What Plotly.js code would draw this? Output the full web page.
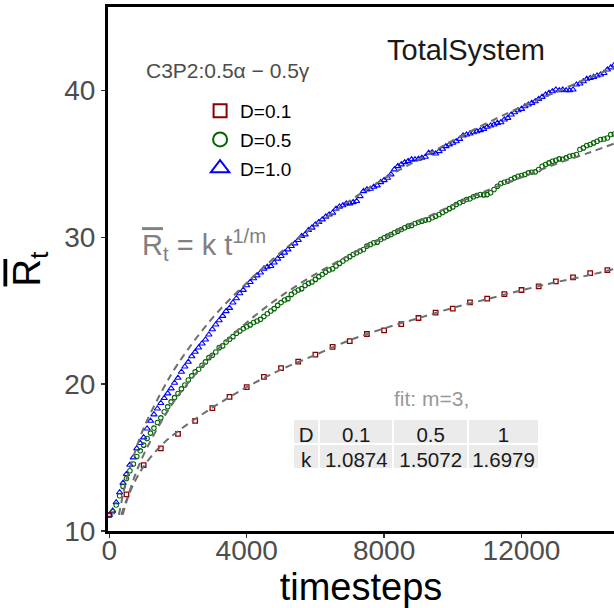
<!DOCTYPE html>
<html>
<head>
<meta charset="utf-8">
<script src="https://cdn.plot.ly/plotly-3.0.1.min.js"></script>
<style>html,body{margin:0;padding:0;background:#fff;}#chart{width:614px;height:608px;}</style>
</head>
<body>
<div id="chart"></div>
<script>
// ---- data ----
// D=1.0 and D=0.5 sampled every 100 timesteps starting at 0
const tStepDense = 100;
const blueR = [11.09,11.38,11.95,12.63,13.27,13.88,14.51,15.01,15.62,15.99,
16.37,16.98,17.50,17.94,18.34,18.71,19.05,19.37,19.71,20.09,
20.43,20.84,21.20,21.52,21.90,22.20,22.49,22.77,23.04,23.38,
23.74,24.06,24.35,24.65,24.97,25.19,25.56,25.85,26.19,26.42,
26.73,26.96,27.21,27.41,27.60,27.87,28.00,28.05,28.28,28.55,
28.73,28.96,29.18,29.41,29.59,29.82,30.09,30.20,30.50,30.66,
30.88,31.04,31.22,31.41,31.56,31.68,31.95,32.09,32.18,32.31,
32.31,32.40,32.47,32.81,33.15,33.27,33.31,33.45,33.54,33.76,
33.90,34.06,34.29,34.63,34.85,34.97,35.12,35.19,35.31,35.31,
35.35,35.42,35.49,35.76,35.80,35.71,35.87,36.03,36.21,36.33,
36.44,36.55,36.71,36.94,37.01,37.07,37.16,37.23,37.30,37.39,
37.53,37.62,37.69,37.80,37.84,38.03,38.14,38.37,38.52,38.66,
38.75,38.93,39.05,39.16,39.27,39.43,39.57,39.73,39.84,39.95,
40.07,40.02,40.07,40.02,40.02,40.07,40.41,40.48,40.63,40.80,
40.86,40.93,41.02,41.09,41.20,41.43,41.58,41.75];
const greenR = [11.09,11.31,11.77,12.40,13.04,13.58,14.10,14.56,15.08,15.46,
15.85,16.30,16.67,17.01,17.39,17.71,18.12,18.46,18.80,19.09,
19.37,19.68,19.95,20.29,20.57,20.84,21.02,21.29,21.52,21.81,
21.97,22.20,22.49,22.61,22.88,23.06,23.24,23.47,23.63,23.79,
23.92,24.04,24.20,24.31,24.42,24.61,24.80,24.99,25.15,25.37,
25.56,25.74,25.83,26.12,26.28,26.42,26.51,26.73,26.87,26.96,
27.14,27.33,27.48,27.64,27.78,27.87,28.05,28.23,28.39,28.55,
28.69,28.84,28.96,29.07,29.18,29.41,29.52,29.64,29.68,29.86,
29.98,30.09,30.20,30.32,30.43,30.54,30.66,30.77,30.82,30.95,
31.04,31.11,31.18,31.22,31.34,31.45,31.56,31.70,31.83,31.96,
32.08,32.24,32.36,32.47,32.59,32.63,32.77,32.86,32.93,32.90,
32.92,33.04,33.27,33.49,33.67,33.76,33.83,33.95,34.06,34.17,
34.22,34.29,34.40,34.44,34.47,34.63,34.85,34.97,35.08,35.19,
35.26,35.35,35.33,35.42,35.53,35.58,35.65,35.99,36.10,36.26,
36.33,36.44,36.55,36.67,36.71,36.78,37.01,37.05];
// D=0.1 sampled every 500 timesteps starting at 0
const tStepSparse = 500;
const redR = [11.10,12.50,14.49,15.63,16.62,17.50,18.37,19.14,19.80,20.50,
21.10,21.54,22.02,22.54,22.93,23.42,23.67,24.10,24.51,24.88,
25.15,25.58,25.83,26.14,26.42,26.67,27.01,27.28,27.57,27.78];

// dashed fit curves
const fitBlueT = [280,400,500,750,1000,1500,2000,3000,4000,5000,6000,7000,8000,9000,10000,11000,12000,13000,14000,14700];
const fitBlueR = [11.1,12.5,13.5,15.4,17.0,19.4,21.4,24.5,26.9,29.0,30.8,32.5,34.0,35.3,36.6,37.8,38.9,39.9,40.9,41.6];
const fitGreenT = [390,500,750,1000,1500,2000,3000,4000,5000,6000,7000,8000,9000,10000,11000,12000,13000,14000,14700];
const fitGreenR = [11.1,12.0,13.8,15.2,17.4,19.2,22.0,24.2,26.0,27.5,28.8,30.0,31.1,32.2,33.2,34.1,35.0,35.8,36.4];
const fitRedT = [350,500,750,1000,1500,2000,3000,4000,5000,6000,7000,8000,9000,10000,11000,12000,13000,14000,14700];
const fitRedR = [11.1,12.1,13.4,14.4,15.8,16.8,18.4,19.8,21.0,22.0,23.0,23.8,24.5,25.2,25.8,26.4,26.95,27.45,27.85];

const legendNames = ['D=0.1','D=0.5','D=1.0'];
const xTickVals = [0,4000,8000,12000];
const xTickText = ['0','4000','8000','12000'];
const yTickVals = [10,20,30,40];
const yTickText = ['10','20','30','40'];

// fit table
const tableHeader = ['D','0.1','0.5','1'];
const tableRow = ['k','1.0874','1.5072','1.6979'];

// ---- styling ----
const FONT = 'Liberation Sans, Arial, Helvetica, sans-serif';
const cRed = '#8B0000', cGreen = '#006400', cBlue = '#0000FF';
const fitColor = '#6e6e6e';

const traces = [
  {type:'scatter', mode:'markers', x0:0, dx:tStepDense, y:blueR, showlegend:false,
   marker:{symbol:'triangle-up-open', size:5.5, color:cBlue, line:{width:1.1, color:cBlue}}},
  {type:'scatter', mode:'markers', x0:0, dx:tStepDense, y:greenR, showlegend:false,
   marker:{symbol:'circle-open', size:4.5, color:cGreen, line:{width:1.1, color:cGreen}}},
  {type:'scatter', mode:'markers', x0:0, dx:tStepSparse, y:redR, showlegend:false,
   marker:{symbol:'square-open', size:4.5, color:cRed, line:{width:1.3, color:cRed}}},
  {type:'scatter', mode:'lines', x:fitBlueT, y:fitBlueR, showlegend:false,
   line:{color:fitColor, width:2, dash:'7px,5px', shape:'spline'}},
  {type:'scatter', mode:'lines', x:fitGreenT, y:fitGreenR, showlegend:false,
   line:{color:fitColor, width:2, dash:'7px,5px', shape:'spline'}},
  {type:'scatter', mode:'lines', x:fitRedT, y:fitRedR, showlegend:false,
   line:{color:fitColor, width:2, dash:'7px,5px', shape:'spline'}},
  // legend entries
  {type:'scatter', mode:'markers', x:[null], y:[null], name:legendNames[0], legendgroup:'a',
   marker:{symbol:'square-open', size:13, color:cRed, line:{width:2, color:cRed}}},
  {type:'scatter', mode:'markers', x:[null], y:[null], name:legendNames[1], legendgroup:'b',
   marker:{symbol:'circle-open', size:14, color:cGreen, line:{width:2, color:cGreen}}},
  {type:'scatter', mode:'markers', x:[null], y:[null], name:legendNames[2], legendgroup:'c',
   marker:{symbol:'triangle-up-open', size:16, color:cBlue, line:{width:2, color:cBlue}}},
  // fit table
  {type:'table', domain:{x:[0.3656,0.8518], y:[0.1145,0.2137]},
   columnwidth:[26,73,74,70],
   header:{values:tableHeader, align:'center', height:25,
     fill:{color:'#EBEBEB'}, line:{color:'#FFFFFF', width:2},
     font:{family:FONT, size:20.5, color:'#1a1a1a'}},
   cells:{values:tableRow.map(v=>[v]), align:'center', height:25,
     fill:{color:'#EBEBEB'}, line:{color:'#FFFFFF', width:2},
     font:{family:FONT, size:20.5, color:'#1a1a1a'}}}
];

const layout = {
  width:614, height:608,
  margin:{l:108, r:0, t:7, b:77, pad:0},
  paper_bgcolor:'#FFFFFF', plot_bgcolor:'#FFFFFF',
  font:{family:FONT},
  showlegend:true,
  legend:{x:0.182, y:0.838, xanchor:'left', yanchor:'top', bgcolor:'rgba(0,0,0,0)',
    font:{family:FONT, size:19, color:'#000'}, itemsizing:'trace', tracegroupgap:1},
  xaxis:{range:[-38,14693], tickvals:xTickVals, ticktext:xTickText,
    showline:true, linewidth:3, linecolor:'#000', mirror:true,
    ticks:'outside', ticklen:4, tickwidth:1.5, tickcolor:'#333',
    ticklabelstandoff:-12,
    showgrid:false, zeroline:false,
    tickfont:{family:FONT, size:28, color:'#4D4D4D'},
    title:{text:'timesteps', font:{family:FONT, size:38, color:'#000'}, standoff:6}},
  yaxis:{range:[10,45.7], tickvals:yTickVals, ticktext:yTickText,
    showline:true, linewidth:3, linecolor:'#000',
    ticks:'outside', ticklen:4, tickwidth:1.5, tickcolor:'#333',
    showgrid:false, zeroline:false,
    tickfont:{family:FONT, size:28, color:'#4D4D4D'},
    title:{text:'<span style="text-decoration:overline">R</span><sub>t</sub>', font:{family:FONT, size:38, color:'#000'}, standoff:12}},
  annotations:[
    {xref:'paper', yref:'paper', x:0.7075, y:0.918, xanchor:'center', yanchor:'middle', showarrow:false,
     text:'TotalSystem', font:{family:FONT, size:29, color:'#1a1a1a'}},
    {xref:'paper', yref:'paper', x:0.0711, y:0.878, xanchor:'left', yanchor:'middle', showarrow:false,
     text:'C3P2:0.5α − 0.5γ', font:{family:FONT, size:21, color:'#4D4D4D'}},
    {xref:'paper', yref:'paper', x:0.0632, y:0.5457, xanchor:'left', yanchor:'middle', showarrow:false,
     text:'<span style="text-decoration:overline">R</span><sub>t</sub> = k t<sup>1/m</sup>', font:{family:FONT, size:29, color:'#808080'}},
    {xref:'paper', yref:'paper', x:0.640, y:0.252, xanchor:'center', yanchor:'middle', showarrow:false,
     text:'fit: m=3,', font:{family:FONT, size:21, color:'#999999'}}
  ]
};

Plotly.newPlot('chart', traces, layout, {staticPlot:true, displayModeBar:false});
</script>
</body>
</html>
